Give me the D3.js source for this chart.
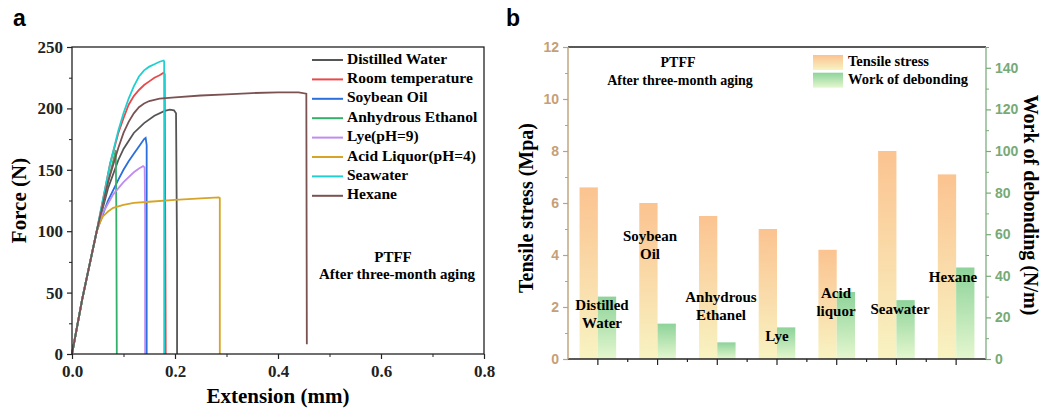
<!DOCTYPE html>
<html>
<head>
<meta charset="utf-8">
<script src="https://cdn.jsdelivr.net/npm/d3@7"></script>
<style>
  body { margin: 0; background: #fff; }
  svg { display: block; }
  text { font-family: "Liberation Serif", "Times New Roman", serif; }
</style>
</head>
<body>
<div id="chart"></div>
<script>
// ---- panel a: force / extension curves ----
const seriesNames = ["Distilled Water", "Room temperature", "Soybean Oil", "Anhydrous Ethanol",
  "Lye(pH=9)", "Acid Liquor(pH=4)", "Seawater", "Hexane"];
const seriesColors = ["#555555", "#e8494b", "#2a6fdc", "#34b06b", "#c08cf0", "#d6a527", "#22cfd0", "#7b5252"];

const distilledWater = [[0,0],[0.02,45],[0.048,100],[0.07,135],[0.09,158],[0.1,167],[0.12,180],[0.14,188],
  [0.16,194],[0.18,198],[0.19,199],[0.198,198.5],[0.202,196],[0.204,80],[0.204,0]];
const roomTemperature = [[0,0],[0.02,45],[0.048,100],[0.074,155],[0.09,180],[0.1,192],[0.11,203],[0.12,210],
  [0.13,215],[0.14,219],[0.15,222],[0.16,225],[0.17,227],[0.178,229],[0.18,228],[0.181,120],[0.182,0]];
const soybeanOil = [[0,0],[0.02,45],[0.048,100],[0.07,125],[0.09,142],[0.1,150],[0.11,157],[0.12,163],
  [0.13,169],[0.14,175],[0.143,176],[0.145,170],[0.145,0]];
const anhydrousEthanol = [[0,0],[0.02,45],[0.048,100],[0.07,140],[0.085,166],[0.086,120],[0.087,0]];
const lye = [[0,0],[0.02,45],[0.048,100],[0.06,115],[0.08,130],[0.1,140],[0.12,148],[0.13,151],
  [0.138,153],[0.141,152],[0.142,115],[0.142,0]];
const acidLiquor = [[0,0],[0.02,45],[0.048,100],[0.055,108],[0.06,112],[0.07,116],[0.08,119],[0.1,121.5],
  [0.12,123],[0.15,124],[0.2,125.5],[0.25,126.8],[0.285,127.5],[0.287,127],[0.287,0]];
const seawater = [[0,0],[0.02,45],[0.048,100],[0.074,155],[0.09,182],[0.1,196],[0.11,208],[0.12,218],
  [0.13,226],[0.14,231],[0.15,234],[0.16,236],[0.17,238],[0.178,239],[0.179,238],[0.179,0]];
const hexane = [[0,0],[0.02,45],[0.048,100],[0.07,140],[0.09,168],[0.1,180],[0.11,189],[0.12,196],
  [0.13,201],[0.14,204],[0.15,206],[0.17,208],[0.2,209],[0.25,210.5],[0.3,211.5],[0.35,212.5],
  [0.4,213],[0.44,213],[0.455,212],[0.456,8]];
const curves = [distilledWater, roomTemperature, soybeanOil, anhydrousEthanol, lye, acidLiquor, seawater, hexane];

const forceTicks = [0, 50, 100, 150, 200, 250];
const extensionTicks = [0, 0.2, 0.4, 0.6, 0.8];

// ---- panel b: bars ----
const categories = ["Distilled Water", "Soybean Oil", "Anhydrous Ethanel", "Lye", "Acid liquor", "Seawater", "Hexane"];
const tensileStress = [6.6, 6.0, 5.5, 5.0, 4.2, 8.0, 7.1];
const workOfDebonding = [30, 17, 8, 15.2, 32.2, 28.3, 44];
const barLabels = [["Distilled", "Water"], ["Soybean", "Oil"], ["Anhydrous", "Ethanel"], ["Lye"],
  ["Acid", "liquor"], ["Seawater"], ["Hexane"]];
const stressTicks = [0, 2, 4, 6, 8, 10, 12];
const workTicks = [0, 20, 40, 60, 80, 100, 120, 140];

const svg = d3.select("#chart").append("svg")
  .attr("width", 1043)
  .attr("height", 411);

// ================= panel a =================
const a = { left: 72, right: 484, top: 47, bottom: 354 };
const x = d3.scaleLinear().domain([0, 0.8]).range([a.left, a.right]);
const y = d3.scaleLinear().domain([0, 250]).range([a.bottom, a.top]);

svg.append("text")
  .attr("x", 13).attr("y", 26)
  .style("font-family", "Liberation Sans, Arial, sans-serif")
  .style("font-weight", "bold").style("font-size", "23px")
  .text("a");

const line = d3.line().x(d => x(d[0])).y(d => y(d[1]));

svg.append("g")
  .selectAll("path")
  .data(curves)
  .enter()
  .append("path")
  .attr("d", d => line(d))
  .attr("fill", "none")
  .attr("stroke", (d, i) => seriesColors[i])
  .attr("stroke-width", 1.8);

// frame
svg.append("rect")
  .attr("x", a.left).attr("y", a.top)
  .attr("width", a.right - a.left).attr("height", a.bottom - a.top)
  .attr("fill", "none").attr("stroke", "#222").attr("stroke-width", 1.3);

function styleAxis(g, color, size, family) {
  g.select(".domain").remove();
  g.selectAll("line").attr("stroke", color).attr("stroke-width", 1.2);
  g.selectAll("text").attr("fill", color)
    .style("font-size", size).style("font-weight", "bold").style("font-family", family);
}

const xAxisA = svg.append("g")
  .attr("transform", `translate(0,${a.bottom})`)
  .call(d3.axisBottom(x).tickValues(extensionTicks).tickFormat(d3.format(".1f")).tickSize(5).tickPadding(6));
styleAxis(xAxisA, "#222", "17px", "Liberation Serif, serif");
svg.append("g")
  .attr("transform", `translate(0,${a.bottom})`)
  .call(d3.axisBottom(x).tickValues([0.1, 0.3, 0.5, 0.7]).tickFormat("").tickSize(3))
  .call(g => g.select(".domain").remove())
  .selectAll("line").attr("stroke", "#222");

const yAxisA = svg.append("g")
  .attr("transform", `translate(${a.left},0)`)
  .call(d3.axisLeft(y).tickValues(forceTicks).tickSize(5).tickPadding(4));
styleAxis(yAxisA, "#222", "17px", "Liberation Serif, serif");
svg.append("g")
  .attr("transform", `translate(${a.left},0)`)
  .call(d3.axisLeft(y).tickValues([25, 75, 125, 175, 225]).tickFormat("").tickSize(3))
  .call(g => g.select(".domain").remove())
  .selectAll("line").attr("stroke", "#222");

svg.append("text")
  .attr("transform", `translate(26,${(a.top + a.bottom) / 2}) rotate(-90)`)
  .attr("text-anchor", "middle")
  .style("font-weight", "bold").style("font-size", "21px")
  .text("Force (N)");
svg.append("text")
  .attr("x", (a.left + a.right) / 2).attr("y", 403)
  .attr("text-anchor", "middle")
  .style("font-weight", "bold").style("font-size", "21px")
  .text("Extension (mm)");

// legend a
const legA = svg.append("g");
seriesNames.forEach((name, i) => {
  const ly = 60 + i * 19.4;
  legA.append("line")
    .attr("x1", 312).attr("x2", 343).attr("y1", ly).attr("y2", ly)
    .attr("stroke", seriesColors[i]).attr("stroke-width", 2);
  legA.append("text")
    .attr("x", 347).attr("y", ly)
    .attr("dominant-baseline", "middle")
    .style("font-weight", "bold").style("font-size", "15.5px")
    .text(name);
});

svg.append("text")
  .attr("x", 393).attr("y", 262).attr("text-anchor", "middle")
  .style("font-weight", "bold").style("font-size", "15px")
  .text("PTFF");
svg.append("text")
  .attr("x", 397).attr("y", 279).attr("text-anchor", "middle")
  .style("font-weight", "bold").style("font-size", "15px")
  .text("After three-month aging");

// ================= panel b =================
const b = { left: 568, right: 986, top: 47, bottom: 359 };
const xb = d3.scaleBand().domain(categories).range([b.left, b.right]);
const yl = d3.scaleLinear().domain([0, 12]).range([b.bottom, b.top]);
const yr = d3.scaleLinear().domain([0, 150]).range([b.bottom, b.top]);
const barW = 18.3;

svg.append("text")
  .attr("x", 506).attr("y", 26)
  .style("font-family", "Liberation Sans, Arial, sans-serif")
  .style("font-weight", "bold").style("font-size", "23px")
  .text("b");

const defs = svg.append("defs");
const gradOrange = defs.append("linearGradient").attr("id", "gradOrange")
  .attr("x1", 0).attr("y1", 0).attr("x2", 0).attr("y2", 1);
gradOrange.append("stop").attr("offset", "0%").attr("stop-color", "#fbc390");
gradOrange.append("stop").attr("offset", "100%").attr("stop-color", "#f8f3c2");
const gradGreen = defs.append("linearGradient").attr("id", "gradGreen")
  .attr("x1", 0).attr("y1", 0).attr("x2", 0).attr("y2", 1);
gradGreen.append("stop").attr("offset", "0%").attr("stop-color", "#8dd39a");
gradGreen.append("stop").attr("offset", "100%").attr("stop-color", "#e5f7cf");

const center = c => xb(c) + xb.bandwidth() / 2;

svg.append("g").selectAll("rect")
  .data(categories)
  .enter().append("rect")
  .attr("x", d => center(d) - barW)
  .attr("y", (d, i) => yl(tensileStress[i]))
  .attr("width", barW)
  .attr("height", (d, i) => b.bottom - yl(tensileStress[i]))
  .attr("fill", "url(#gradOrange)");

svg.append("g").selectAll("rect")
  .data(categories)
  .enter().append("rect")
  .attr("x", d => center(d))
  .attr("y", (d, i) => yr(workOfDebonding[i]))
  .attr("width", barW)
  .attr("height", (d, i) => b.bottom - yr(workOfDebonding[i]))
  .attr("fill", "url(#gradGreen)");

// bar labels
const labelPos = [[602, 307], [650, 238], [721, 299], [777, 338], [836, 295], [900, 311], [953, 279]];
categories.forEach((c, i) => {
  barLabels[i].forEach((t, j) => {
    svg.append("text")
      .attr("x", labelPos[i][0]).attr("y", labelPos[i][1] + j * 18)
      .attr("text-anchor", "middle").attr("dominant-baseline", "middle")
      .style("font-weight", "bold").style("font-size", "15px")
      .text(t);
  });
});

// frame pieces
svg.append("line")
  .attr("x1", b.left).attr("x2", b.right).attr("y1", b.top).attr("y2", b.top)
  .attr("stroke", "#222").attr("stroke-width", 1.3);
svg.append("line")
  .attr("x1", b.left).attr("x2", b.right).attr("y1", b.bottom).attr("y2", b.bottom)
  .attr("stroke", "#222").attr("stroke-width", 1.3);
svg.append("line")
  .attr("x1", b.left).attr("x2", b.left).attr("y1", b.top).attr("y2", b.bottom)
  .attr("stroke", "#c4a47f").attr("stroke-width", 1.5);
svg.append("line")
  .attr("x1", b.right).attr("x2", b.right).attr("y1", b.top).attr("y2", b.bottom)
  .attr("stroke", "#8fb88f").attr("stroke-width", 1.5);

// bottom axis ticks
const xAxisB = svg.append("g")
  .attr("transform", `translate(0,${b.bottom})`)
  .call(d3.axisBottom(xb).tickFormat("").tickSize(6));
xAxisB.select(".domain").remove();
xAxisB.selectAll("line").attr("stroke", "#222").attr("stroke-width", 1.2);
svg.append("g").selectAll("line")
  .data(categories.slice(1))
  .enter().append("line")
  .attr("x1", d => xb(d)).attr("x2", d => xb(d))
  .attr("y1", b.bottom).attr("y2", b.bottom + 3)
  .attr("stroke", "#222").attr("stroke-width", 1.2);

const ylAxis = svg.append("g")
  .attr("transform", `translate(${b.left},0)`)
  .call(d3.axisLeft(yl).tickValues(stressTicks).tickSize(5).tickPadding(4));
styleAxis(ylAxis, "#c69f78", "14px", "Liberation Sans, Arial, sans-serif");
svg.append("g")
  .attr("transform", `translate(${b.left},0)`)
  .call(d3.axisLeft(yl).tickValues([1, 3, 5, 7, 9, 11]).tickFormat("").tickSize(3))
  .call(g => g.select(".domain").remove())
  .selectAll("line").attr("stroke", "#c69f78");

const yrAxis = svg.append("g")
  .attr("transform", `translate(${b.right},0)`)
  .call(d3.axisRight(yr).tickValues(workTicks).tickSize(5).tickPadding(4));
styleAxis(yrAxis, "#76aa76", "14px", "Liberation Sans, Arial, sans-serif");
svg.append("g")
  .attr("transform", `translate(${b.right},0)`)
  .call(d3.axisRight(yr).tickValues([10, 30, 50, 70, 90, 110, 130, 150]).tickFormat("").tickSize(3))
  .call(g => g.select(".domain").remove())
  .selectAll("line").attr("stroke", "#76aa76");

svg.append("text")
  .attr("transform", `translate(533,${(b.top + b.bottom) / 2 + 5}) rotate(-90)`)
  .attr("text-anchor", "middle")
  .style("font-weight", "bold").style("font-size", "20px")
  .text("Tensile stress (Mpa)");
svg.append("text")
  .attr("transform", `translate(1024,${(b.top + b.bottom) / 2 + 2}) rotate(90)`)
  .attr("text-anchor", "middle")
  .style("font-weight", "bold").style("font-size", "20px")
  .text("Work of debonding (N/m)");

svg.append("text")
  .attr("x", 678).attr("y", 64).attr("text-anchor", "middle").attr("dominant-baseline", "middle")
  .style("font-weight", "bold").style("font-size", "14px")
  .text("PTFF");
svg.append("text")
  .attr("x", 680).attr("y", 82).attr("text-anchor", "middle").attr("dominant-baseline", "middle")
  .style("font-weight", "bold").style("font-size", "14px")
  .text("After three-month aging");

// legend b
const legB = [["Tensile stress", "url(#gradOrange)"], ["Work of debonding", "url(#gradGreen)"]];
legB.forEach((d, i) => {
  svg.append("rect")
    .attr("x", 813).attr("y", 55 + i * 17.7)
    .attr("width", 30).attr("height", 15)
    .attr("fill", d[1]);
  svg.append("text")
    .attr("x", 848).attr("y", 63 + i * 17.7)
    .attr("dominant-baseline", "middle")
    .style("font-weight", "bold").style("font-size", "14.5px")
    .text(d[0]);
});
</script>
</body>
</html>
